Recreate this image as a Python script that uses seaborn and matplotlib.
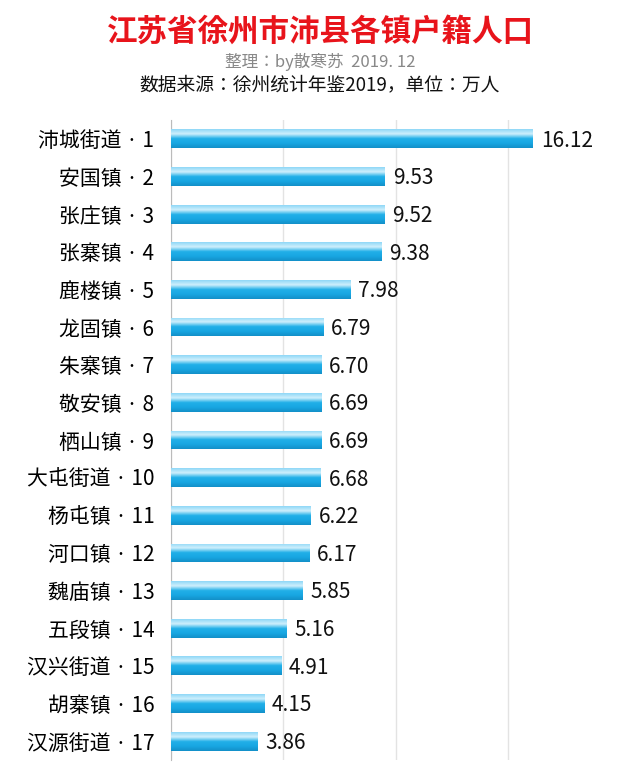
import matplotlib
matplotlib.use("Agg")
import matplotlib.pyplot as plt
from matplotlib import font_manager as fm
import seaborn as sns
import numpy as np
import pandas as pd
from matplotlib.colors import LinearSegmentedColormap

cjk = [f for f in fm.findSystemFonts() if "CJK" in f or "cjk" in f.lower()]
fam = "DejaVu Sans"
for f in cjk:
    try:
        fm.fontManager.addfont(f)
    except Exception:
        pass
names = {fm.FontProperties(fname=f).get_name() for f in cjk}
for n in ["Noto Sans CJK SC", "Noto Sans CJK JP", "Noto Sans CJK TC"]:
    if n in names:
        fam = n
        break
else:
    if names:
        fam = sorted(names)[0]
plt.rcParams["font.family"] = [fam, "DejaVu Sans"]

towns = ["沛城街道", "安国镇", "张庄镇", "张寨镇", "鹿楼镇", "龙固镇", "朱寨镇", "敬安镇", "栖山镇",
         "大屯街道", "杨屯镇", "河口镇", "魏庙镇", "五段镇", "汉兴街道", "胡寨镇", "汉源街道"]
population = [16.12, 9.53, 9.52, 9.38, 7.98, 6.79, 6.70, 6.69, 6.69, 6.68, 6.22, 6.17, 5.85, 5.16, 4.91, 4.15, 3.86]
labels = [f"{t} · {i+1}" for i, t in enumerate(towns)]

df = pd.DataFrame({"label": labels, "value": population})

fig = plt.figure(figsize=(6.4, 7.8), dpi=100)
ax = fig.add_axes([171/640, 20/780, 449/640, 640/780])
sns.barplot(data=df, x="value", y="label", ax=ax, color="#1AA7E0", width=0.5, saturation=1)

cmap = LinearSegmentedColormap.from_list("g", ["#8FD8F7", "#CFEFFC", "#22B0E8", "#18A6E2", "#1390C8"])
grad = np.linspace(0, 1, 64).reshape(-1, 1)
for p in ax.patches:
    x0, y0, w, h = p.get_x(), p.get_y(), p.get_width(), p.get_height()
    im = ax.imshow(grad, extent=[x0, x0 + w, y0 + h, y0], aspect="auto", cmap=cmap, zorder=3)
    im.set_clip_path(p)
    p.set_edgecolor("none")

for i, v in enumerate(population):
    ax.text(v + 0.35, i + 0.05, f"{v:.2f}", va="center", ha="left", fontsize=15, color="#111111", zorder=4)

ax.set_xlim(0, 20)
ax.set_ylim(len(labels) - 0.5, -0.5)
ax.set_xticks([0, 5, 10, 15])
ax.xaxis.grid(True, color="#E3E3E3", lw=1)
ax.set_axisbelow(True)
ax.tick_params(axis="x", bottom=False, labelbottom=False)
ax.tick_params(axis="y", length=0, labelsize=15, pad=12)
ax.set_xlabel("")
ax.set_ylabel("")
for s in ["top", "right", "bottom"]:
    ax.spines[s].set_visible(False)
ax.spines["left"].set_color("#BBBBBB")

fig.text(0.5, 1 - 32/780, "江苏省徐州市沛县各镇户籍人口", ha="center", va="center",
         fontsize=22, fontweight="bold", color="#E8141B")
fig.text(0.5, 1 - 62/780, "整理：by散寒苏  2019. 12", ha="center", va="center", fontsize=12, color="#888888")
fig.text(0.5, 1 - 85/780, "数据来源：徐州统计年鉴2019，单位：万人", ha="center", va="center", fontsize=13.5, color="#111111")

fig.savefig("out.png", dpi=100)
